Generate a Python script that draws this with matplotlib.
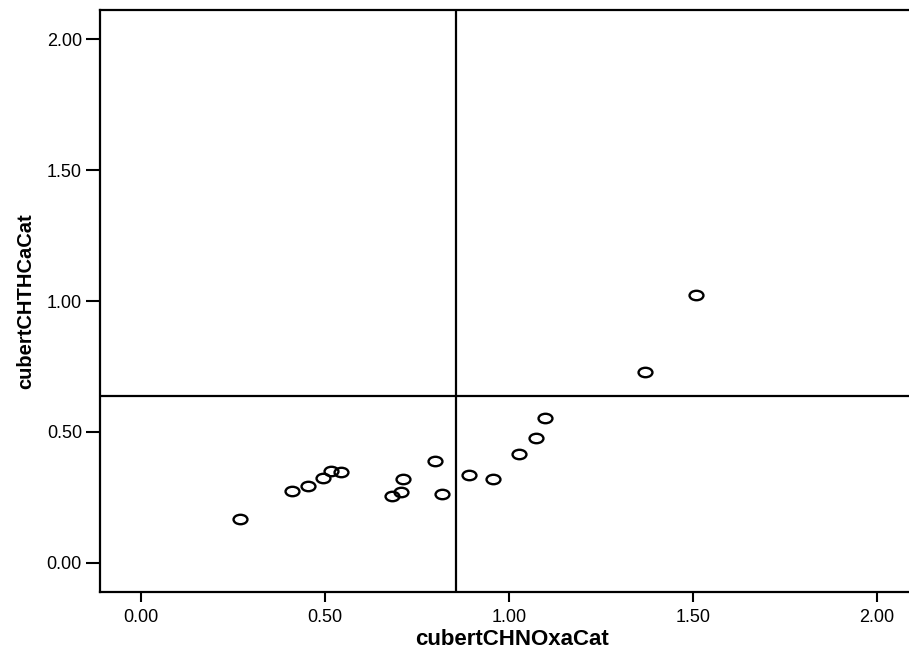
import numpy as np
import matplotlib
matplotlib.use("Agg")
import matplotlib.pyplot as plt
from matplotlib.path import Path
from matplotlib.transforms import Affine2D

plt.rcParams['font.family'] = ['Liberation Sans', 'DejaVu Sans']

# cube-root transformed values
chnoxa = [0.270, 0.412, 0.453, 0.495, 0.517, 0.544, 0.682, 0.706, 0.713,
          0.800, 0.818, 0.892, 0.957, 1.028, 1.075, 1.098, 1.371, 1.508]
chthca = [0.169, 0.275, 0.295, 0.326, 0.351, 0.348, 0.256, 0.270, 0.319,
          0.390, 0.262, 0.336, 0.321, 0.416, 0.476, 0.553, 0.730, 1.023]

x_ref = 0.856
y_ref = 0.639
ticks = [0.0, 0.5, 1.0, 1.5, 2.0]

# flattened circle marker
ellipse = Path.unit_circle().transformed(Affine2D().scale(1.0, 0.68))

fig = plt.figure(figsize=(9.09, 6.53), dpi=100)
# right edge of the frame runs past the canvas
ax = fig.add_axes([100 / 909, 1 - 592 / 653, 824 / 909, 582 / 653])

ax.plot(chnoxa, chthca, linestyle='none', marker=ellipse, markersize=10,
        markerfacecolor='none', markeredgecolor='black', markeredgewidth=1.7)

ax.axvline(x_ref, color='black', linewidth=1.6)
ax.axhline(y_ref, color='black', linewidth=1.6)

ax.set_xlim(-0.111, 2.128)
ax.set_ylim(-0.111, 2.111)
ax.set_xticks(ticks)
ax.set_yticks(ticks)
ax.set_xticklabels([f"{t:.2f}" for t in ticks])
ax.set_yticklabels([f"{t:.2f}" for t in ticks])

for s in ax.spines.values():
    s.set_linewidth(1.6)
ax.tick_params(axis='x', direction='out', length=7, width=1.5, pad=5, labelsize=13)
ax.tick_params(axis='y', direction='out', length=10, width=1.5, pad=3, labelsize=13)

ax.set_xlabel('cubertCHNOxaCat', fontsize=16, fontweight='bold')
ax.set_ylabel('cubertCHTHCaCat', fontsize=14.5, fontweight='bold')
ax.xaxis.set_label_coords(0.5, -0.064)
ax.yaxis.set_label_coords(-0.0785, 0.5)

fig.savefig('out.png', dpi=100)
